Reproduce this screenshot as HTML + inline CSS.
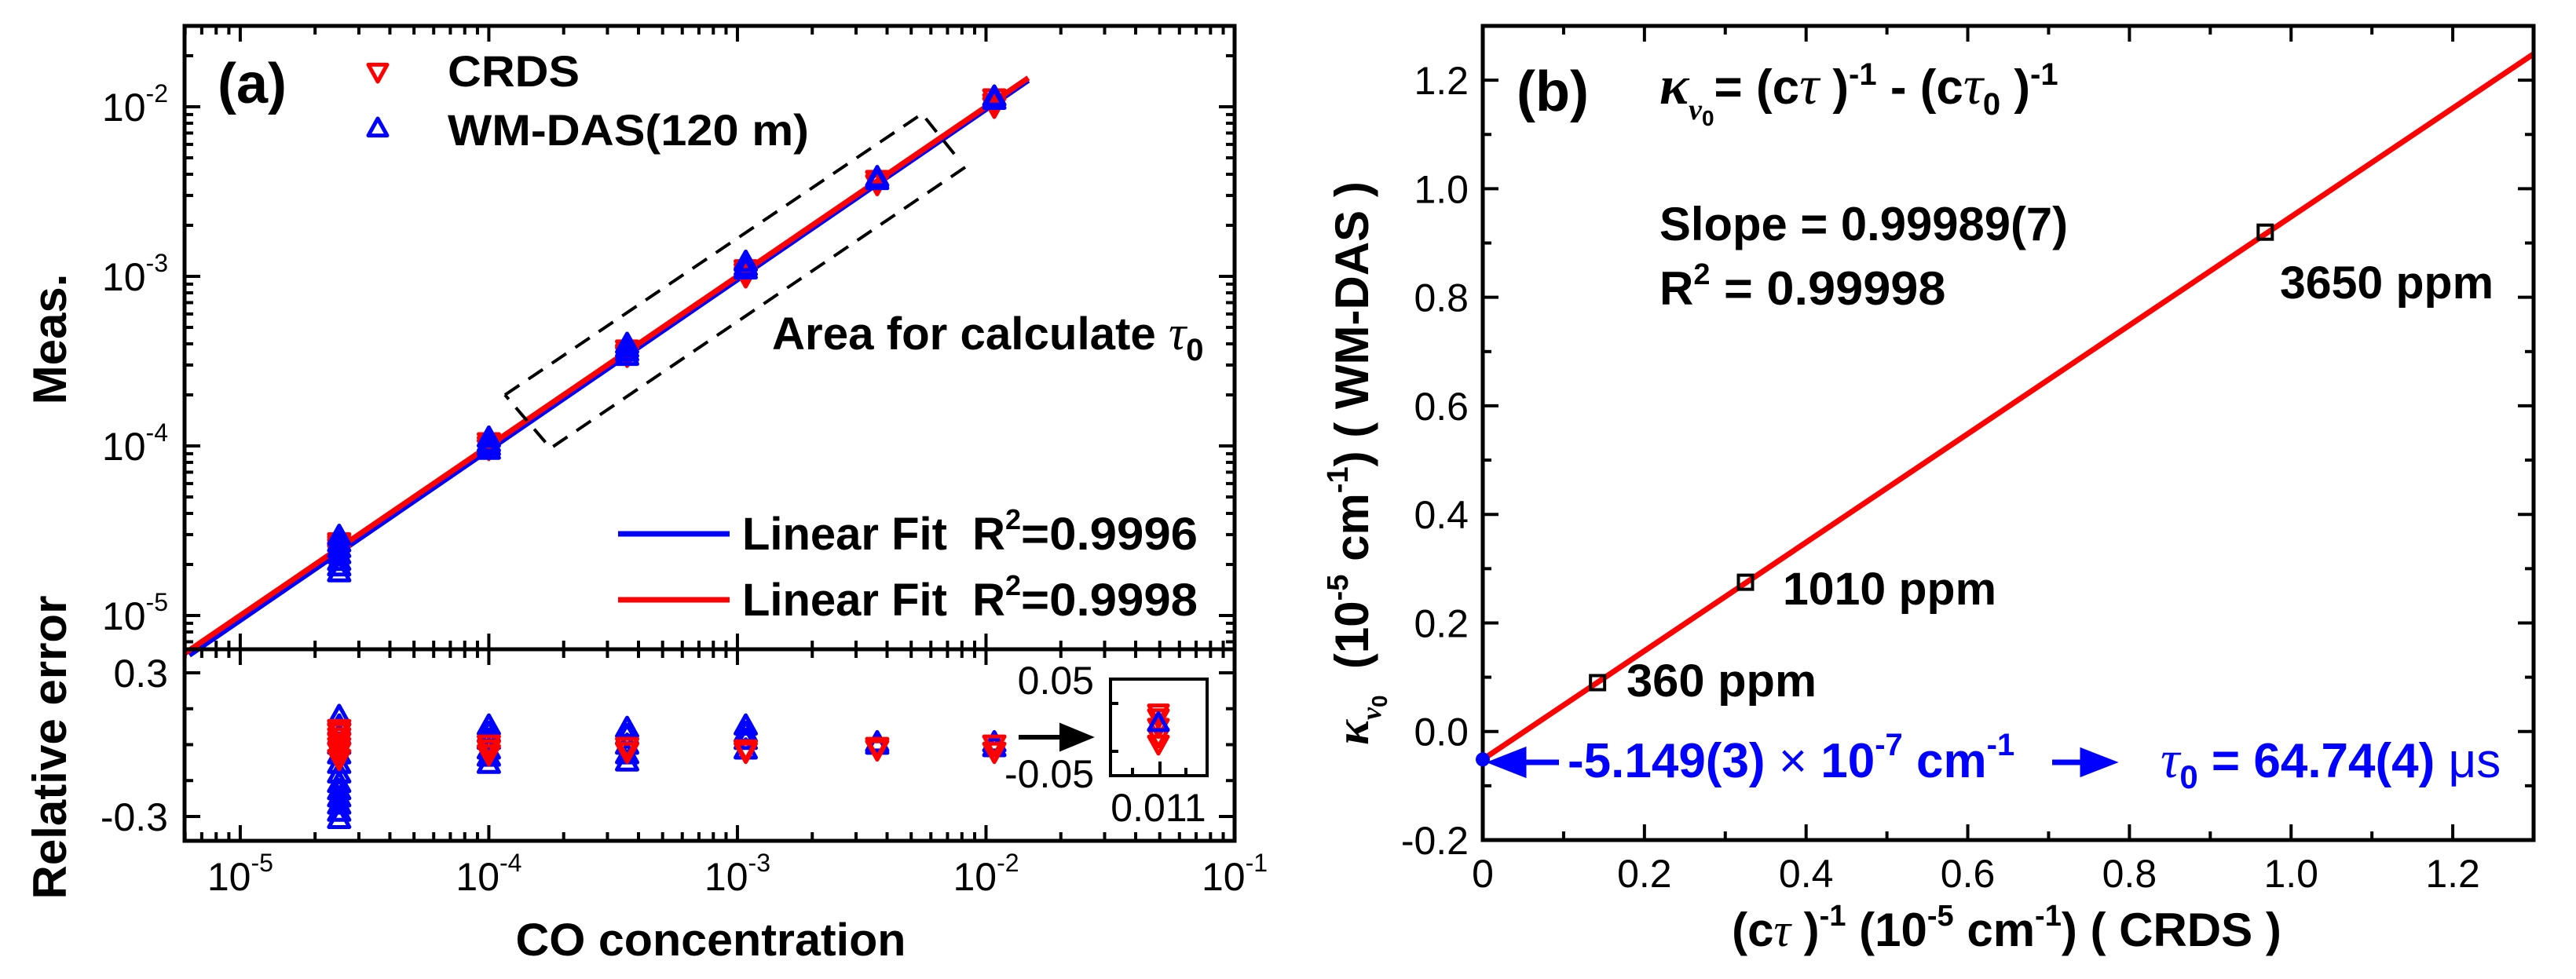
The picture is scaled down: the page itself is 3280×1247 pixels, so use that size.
<!DOCTYPE html>
<html><head><meta charset="utf-8"><style>
html,body{margin:0;padding:0;background:#fff}
svg{display:block}
text{font-family:"Liberation Sans Narrow","Liberation Sans",sans-serif}
.b{font-weight:bold}
</style></head><body>
<svg id="fig" width="3280" height="1247" viewBox="0 0 3280 1247" xmlns="http://www.w3.org/2000/svg">
<g id="pa"></g>
<g id="pb"></g>
</svg>
<script>
// ---------- Panel (a) data ----------
const concX = [2.5e-5, 1.0e-4, 3.6e-4, 1.08e-3, 3.65e-3, 1.08e-2];
const crdsMeas = [[2.7e-5,2.6e-5,2.5e-5,2.4e-5,2.3e-5],[1.05e-4,1.0e-4,9.6e-5],[3.7e-4,3.5e-4,3.4e-4],[1.1e-3,1.05e-3,1.0e-3],[3.7e-3,3.5e-3],[1.12e-2,1.05e-2,1.0e-2]];
const wmMeas = [[2.95e-5,2.7e-5,2.5e-5,2.3e-5,2.1e-5,1.95e-5,1.8e-5],[1.12e-4,1.05e-4,1.0e-4,9.5e-5],[4.0e-4,3.8e-4,3.6e-4,3.4e-4],[1.22e-3,1.15e-3,1.1e-3],[3.85e-3,3.7e-3],[1.15e-2,1.1e-2]];
const crdsErr = [[0.065,0.05,0.03,0.01,-0.01,-0.03,-0.06],[0.0,-0.02,-0.04],[-0.01,-0.03],[-0.02,-0.03],[-0.01,-0.02],[0.0,-0.03]];
const wmErr = [[0.12,0.08,0.04,0.0,-0.04,-0.08,-0.12,-0.16,-0.19,-0.22,-0.25,-0.28,-0.31],[0.08,0.05,0.02,-0.02,-0.05,-0.08],[0.07,0.04,0.0,-0.04,-0.07],[0.08,0.05,0.02,-0.02],[0.01,0.0],[0.01,-0.01]];
const insetCrds = [0.03, 0.02, 0.0, -0.02, -0.035];
const insetWm = [0.01];
const fitRange = [5.97e-6, 1.48e-2];
const xTickExp = [-5,-4,-3,-2,-1];
const yTickExp = [-5,-4,-3,-2];
// ---------- Panel (b) data ----------
const bX = [0.142, 0.325, 0.968];
const bY = [0.09, 0.275, 0.92];
const bLabels = ["360 ppm","1010 ppm","3650 ppm"];
const slope = 0.99989, intercept = -0.05149;
const bXTicks = [0,0.2,0.4,0.6,0.8,1.0,1.2];
const bXTickLabels = ["0","0.2","0.4","0.6","0.8","1.0","1.2"];
const bYTicks = [-0.2,0,0.2,0.4,0.6,0.8,1.0,1.2];
const bYTickLabels = ["-0.2","0.0","0.2","0.4","0.6","0.8","1.0","1.2"];

const NS="http://www.w3.org/2000/svg";
function mk(parent, tag, attrs, txt){const e=document.createElementNS(NS,tag);for(const k in attrs)e.setAttribute(k,attrs[k]);if(txt!==undefined)e.textContent=txt;parent.appendChild(e);return e;}

// ================= PANEL A =================
const pa=document.getElementById('pa');
const AL=235, AR=1572, AT=33, AM=827, AB=1071;
const lxmin=Math.log10(5.97e-6), lxmax=-1;
const ax=v=>AL+(Math.log10(v)-lxmin)/(lxmax-lxmin)*(AR-AL);
const ay=v=>784-(Math.log10(v)+5)*216;
const ey=v=>948.5-v*305;

const tk=mk(pa,'g',{stroke:'#000','stroke-width':4});


for(let e=-6;e<=-1;e++){for(let m=1;m<=9;m++){const v=m*Math.pow(10,e);if(v<5.97e-6||v>0.1)continue;const x=ax(v);const L=m===1?20:11;
 [[AT,AT+L],[AM,AM-L],[AM,AM+L],[AB,AB-L]].forEach(p=>mk(tk,'line',{x1:x,x2:x,y1:p[0],y2:p[1]}));}}
for(let e=-6;e<=-1;e++){for(let m=1;m<=9;m++){const v=m*Math.pow(10,e);const y=ay(v);if(y<AT||y>AM)continue;const L=m===1?20:11;
 mk(tk,'line',{x1:AL,x2:AL+L,y1:y,y2:y});mk(tk,'line',{x1:AR,x2:AR-L,y1:y,y2:y});}}
[0.3,0.15,0,-0.15,-0.3].forEach(v=>{const y=ey(v);const L=(v===0.3||v===-0.3)?20:11;mk(tk,'line',{x1:AL,x2:AL+L,y1:y,y2:y});mk(tk,'line',{x1:AR,x2:AR-L,y1:y,y2:y});});

const fl=mk(pa,'line',{x1:ax(fitRange[0])+6,y1:ay(fitRange[0])+2,x2:ax(fitRange[1]),y2:ay(fitRange[1])+3,stroke:'#0000ff','stroke-width':7});


const fr=mk(pa,'line',{x1:ax(fitRange[0]),y1:ay(fitRange[0]),x2:ax(fitRange[1]),y2:ay(fitRange[1]),stroke:'#ff0000','stroke-width':7});



function tri(g,x,y,up,col,s){s=s||13;const d=up?`M${x},${y-s} L${x+s},${y+s*0.8} L${x-s},${y+s*0.8} Z`:`M${x},${y+s} L${x+s},${y-s*0.8} L${x-s},${y-s*0.8} Z`;return mk(g,'path',{d:d,fill:'none',stroke:col,'stroke-width':5,'stroke-linejoin':'round'});}
const gm=mk(pa,'g',{});


concX.forEach((c,i)=>{
 crdsMeas[i].forEach(v=>{const p=tri(gm,ax(c),ay(v),false,'#ff0000');});
 wmMeas[i].forEach(v=>{const p=tri(gm,ax(c),ay(v),true,'#0000ff');});
 wmErr[i].forEach(v=>{const p=tri(gm,ax(c),ey(v),true,'#0000ff');});
 crdsErr[i].forEach(v=>{const p=tri(gm,ax(c),ey(v),false,'#ff0000');});
});

const fa=mk(pa,'path',{d:`M${AL},${AT}H${AR}V${AB}H${AL}Z M${AL},${AM}H${AR}`,fill:'none',stroke:'#000','stroke-width':5});



const db=mk(pa,'path',{d:'M643,503 L1174,145 L1219,201 M1229,213 L701,571 L643,503',fill:'none',stroke:'#000','stroke-width':4,'stroke-dasharray':'22,14'});



xTickExp.forEach(e=>{const t=mk(pa,'text',{x:ax(Math.pow(10,e)),y:1134,'font-size':50,'text-anchor':'middle'});
 mk(t,'tspan',{},'10');mk(t,'tspan',{'font-size':32,dy:-24},String(e));});
yTickExp.forEach(e=>{const t=mk(pa,'text',{x:214,y:ay(Math.pow(10,e))+18,'font-size':50,'text-anchor':'end'});
 mk(t,'tspan',{},'10');mk(t,'tspan',{'font-size':32,dy:-24},String(e));});
[[0.3,'0.3'],[-0.3,'-0.3']].forEach(p=>{const t=mk(pa,'text',{x:214,y:ey(p[0])+18,'font-size':50,'text-anchor':'end'},p[1]);});

let t;
t=mk(pa,'text',{x:277,y:131,'font-size':72,'class':'b'},'(a)');
tri(pa,481,92,false,'#ff0000',12);
t=mk(pa,'text',{x:570,y:110,'font-size':56,'class':'b',textLength:168,lengthAdjust:'spacingAndGlyphs'},'CRDS');
tri(pa,481,163,true,'#0000ff',12);
t=mk(pa,'text',{x:570,y:185,'font-size':56,'class':'b',textLength:460,lengthAdjust:'spacingAndGlyphs'},'WM-DAS(120 m)');
t=mk(pa,'text',{x:983,y:445,'font-size':58,'class':'b'});
mk(t,'tspan',{textLength:505,lengthAdjust:'spacingAndGlyphs'},'Area for calculate\u00a0');mk(t,'tspan',{'font-family':'Liberation Serif,serif','font-style':'italic','font-weight':'normal','font-size':62},'τ');mk(t,'tspan',{'font-size':40,dy:14},'0');
mk(pa,'line',{x1:787,x2:929,y1:680,y2:680,stroke:'#0000ff','stroke-width':7});
mk(pa,'line',{x1:787,x2:929,y1:764,y2:764,stroke:'#ff0000','stroke-width':7});
[[700,'0.9996','legend-fit-wm-das'],[784,'0.9998','legend-fit-crds']].forEach(p=>{const tt=mk(pa,'text',{x:945,y:p[0],'font-size':58,'class':'b'});
 mk(tt,'tspan',{textLength:335,lengthAdjust:'spacingAndGlyphs'},'Linear Fit\u00a0\u00a0R');mk(tt,'tspan',{'font-size':36,dy:-26},'2');mk(tt,'tspan',{dy:26,textLength:225,lengthAdjust:'spacingAndGlyphs'},'='+p[1]);});

t=mk(pa,'text',{x:0,y:0,'font-size':60,'class':'b','text-anchor':'middle',transform:'translate(84,432) rotate(-90)','font-family':'Liberation Sans,sans-serif'},'Meas.');
t=mk(pa,'text',{x:0,y:0,'font-size':60,'class':'b','text-anchor':'middle',transform:'translate(84,952) rotate(-90)','font-family':'Liberation Sans,sans-serif'},'Relative error');
t=mk(pa,'text',{x:905,y:1217,'font-size':58,'class':'b','text-anchor':'middle',textLength:497,lengthAdjust:'spacingAndGlyphs'},'CO concentration');

const IL=1414,IR=1537,IT=865,IB=988;
const iy=v=>926.5-v*610;
const ins=mk(pa,'g',{});


insetCrds.forEach(v=>tri(ins,1475,iy(v),false,'#ff0000',12));
insetWm.forEach(v=>tri(ins,1475,iy(v),true,'#0000ff',12));
mk(ins,'rect',{x:IL,y:IT,width:IR-IL,height:IB-IT,fill:'none',stroke:'#000','stroke-width':4});
[896,957].forEach(y=>mk(ins,'line',{x1:IL,x2:IL+10,y1:y,y2:y,stroke:'#000','stroke-width':4}));
[[1442,10],[1477,18],[1510,10]].forEach(p=>mk(ins,'line',{x1:p[0],x2:p[0],y1:IB,y2:IB-p[1],stroke:'#000','stroke-width':4}));
mk(ins,'text',{x:1393,y:884,'font-size':50,'text-anchor':'end'},'0.05');
mk(ins,'text',{x:1393,y:1003,'font-size':50,'text-anchor':'end'},'-0.05');
mk(ins,'text',{x:1475,y:1046,'font-size':50,'text-anchor':'middle'},'0.011');
const ar=mk(pa,'path',{d:'M1297,939 H1360 M1386,939 L1352,925 L1352,953 Z',stroke:'#000','stroke-width':6,fill:'#000'});



// ================= PANEL B =================
const pb=document.getElementById('pb');
const BL=1888,BR=3226,BT=33,BB=1070;
const bx=v=>BL+v/1.3*(BR-BL);
const by=v=>BB-(v+0.2)/1.5*(BB-BT);
const tb=mk(pb,'g',{stroke:'#000','stroke-width':4});


for(let i=0;i<=13;i++){const v=i*0.1;const x=bx(v);const L=i%2===0?20:11;mk(tb,'line',{x1:x,x2:x,y1:BB,y2:BB-L});mk(tb,'line',{x1:x,x2:x,y1:BT,y2:BT+L});}
for(let i=-2;i<=13;i++){const v=i*0.1;const y=by(v);const L=i%2===0?20:11;mk(tb,'line',{x1:BL,x2:BL+L,y1:y,y2:y});mk(tb,'line',{x1:BR,x2:BR-L,y1:y,y2:y});}
bXTicks.forEach((v,i)=>{const tt=mk(pb,'text',{x:bx(v),y:1130,'font-size':50,'text-anchor':'middle'},bXTickLabels[i]);});
bYTicks.forEach((v,i)=>{const tt=mk(pb,'text',{x:1870,y:by(v)+18,'font-size':50,'text-anchor':'end'},bYTickLabels[i]);});
const bl=mk(pb,'line',{x1:bx(0),y1:by(intercept),x2:bx(1.3),y2:by(intercept+slope*1.3),stroke:'#ff0000','stroke-width':7});


bX.forEach((v,i)=>{const r=mk(pb,'rect',{x:bx(v)-9,y:by(bY[i])-9,width:18,height:18,fill:'none',stroke:'#000','stroke-width':4});});
const lp=[[2071,887,242],[2270,770,272],[2903,380,272]];
bLabels.forEach((s,i)=>{const tt=mk(pb,'text',{x:lp[i][0],y:lp[i][1],'font-size':58,'class':'b',textLength:lp[i][2],lengthAdjust:'spacingAndGlyphs'},s);});
const fb=mk(pb,'rect',{x:BL,y:BT,width:BR-BL,height:BB-BT,fill:'none',stroke:'#000','stroke-width':5});


t=mk(pb,'text',{x:1931,y:141,'font-size':72,'class':'b'},'(b)');
t=mk(pb,'text',{x:2113,y:132,'font-size':62,'class':'b','font-family':'Liberation Sans,sans-serif'});
mk(t,'tspan',{'font-family':'Liberation Serif,serif','font-style':'italic','font-size':70},'κ');mk(t,'tspan',{'font-size':38,dy:20,'font-family':'Liberation Serif,serif','font-style':'italic'},'ν');mk(t,'tspan',{'font-size':28,dy:8},'0');
mk(t,'tspan',{dy:-28},'= (c');mk(t,'tspan',{'font-family':'Liberation Serif,serif','font-style':'italic','font-weight':'normal','font-size':70},'τ');mk(t,'tspan',{},' )');mk(t,'tspan',{'font-size':40,dy:-24},'-1');
mk(t,'tspan',{dy:24},' - (c');mk(t,'tspan',{'font-family':'Liberation Serif,serif','font-style':'italic','font-weight':'normal','font-size':70},'τ');mk(t,'tspan',{'font-size':40,dy:14},'0');mk(t,'tspan',{dy:-14},' )');mk(t,'tspan',{'font-size':40,dy:-24},'-1');
t=mk(pb,'text',{x:2113,y:306,'font-size':60,'class':'b',textLength:520,lengthAdjust:'spacingAndGlyphs'},'Slope = 0.99989(7)');
t=mk(pb,'text',{x:2113,y:388,'font-size':60,'class':'b'});
mk(t,'tspan',{},'R');mk(t,'tspan',{'font-size':38,dy:-26},'2');mk(t,'tspan',{dy:26,textLength:300,lengthAdjust:'spacingAndGlyphs'},'\u00a0= 0.99998');
const dot=mk(pb,'circle',{cx:bx(0),cy:by(intercept),r:9,fill:'#0000ff'});


const a1=mk(pb,'path',{d:'M1985,971 H1935 M1902,971 L1940,956 L1940,986 Z',stroke:'#0000ff','stroke-width':7,fill:'#0000ff'});


const a2=mk(pb,'path',{d:'M2613,971 H2660 M2688,971 L2652,957 L2652,985 Z',stroke:'#0000ff','stroke-width':7,fill:'#0000ff'});


t=mk(pb,'text',{x:1996,y:990,'font-size':62,'class':'b',fill:'#0000ff'});
mk(t,'tspan',{},'-5.149(3) ');mk(t,'tspan',{'font-weight':'normal'},'× ');mk(t,'tspan',{},'10');mk(t,'tspan',{'font-size':40,dy:-28},'-7');mk(t,'tspan',{dy:28},' cm');mk(t,'tspan',{'font-size':40,dy:-28},'-1');
t=mk(pb,'text',{x:2751,y:990,'font-size':62,'class':'b',fill:'#0000ff'});
mk(t,'tspan',{'font-family':'Liberation Serif,serif','font-style':'italic','font-weight':'normal','font-size':68},'τ');mk(t,'tspan',{'font-size':42,dy:14},'0');mk(t,'tspan',{dy:-14},' = 64.74(4) ');mk(t,'tspan',{'font-weight':'normal'},'μs');
t=mk(pb,'text',{x:2555,y:1205,'font-size':60,'class':'b','text-anchor':'middle'});
mk(t,'tspan',{},'(c');mk(t,'tspan',{'font-family':'Liberation Serif,serif','font-style':'italic','font-weight':'normal'},'τ');mk(t,'tspan',{},' )');mk(t,'tspan',{'font-size':38,dy:-26},'-1');mk(t,'tspan',{dy:26},' (10');mk(t,'tspan',{'font-size':38,dy:-26},'-5');mk(t,'tspan',{dy:26},' cm');mk(t,'tspan',{'font-size':38,dy:-26},'-1');mk(t,'tspan',{dy:26},') ( CRDS )');
t=mk(pb,'text',{x:0,y:0,'font-size':60,'class':'b','text-anchor':'middle',transform:'translate(1742,590) rotate(-90)'});
mk(t,'tspan',{'font-family':'Liberation Serif,serif','font-style':'italic'},'κ');mk(t,'tspan',{'font-size':36,dy:16,'font-family':'Liberation Serif,serif','font-style':'italic'},'ν');mk(t,'tspan',{'font-size':28,dy:8},'0');
mk(t,'tspan',{dy:-24},'\u00a0 (10');mk(t,'tspan',{'font-size':38,dy:-26},'-5');mk(t,'tspan',{dy:26},' cm');mk(t,'tspan',{'font-size':38,dy:-26},'-1');mk(t,'tspan',{dy:26},') ( WM-DAS )');
</script>
</body></html>
